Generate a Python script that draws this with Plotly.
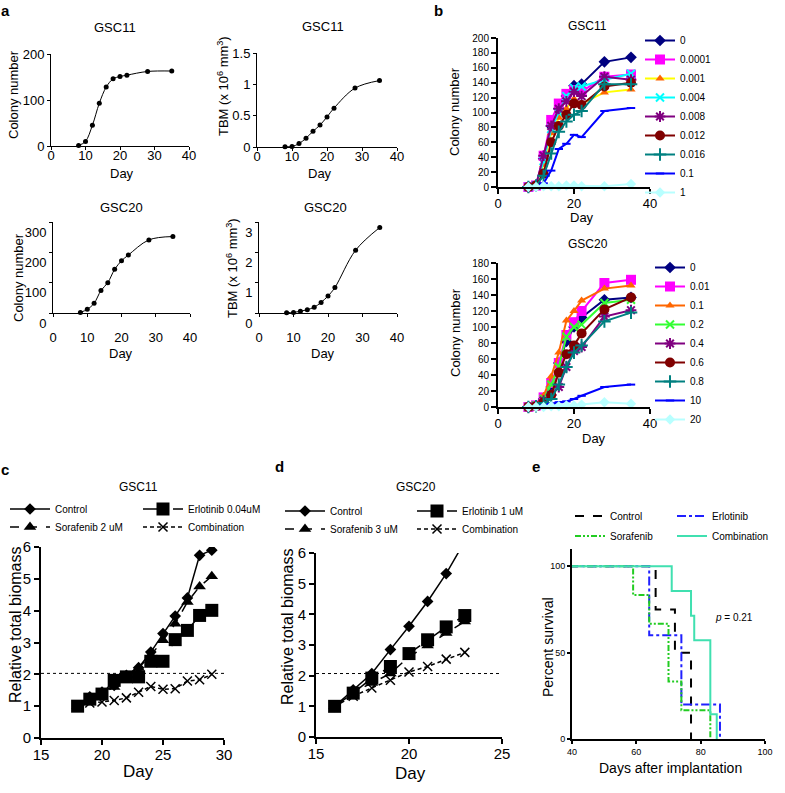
import plotly.graph_objects as go

W, H = 785, 793
FONT = "Arial, 'Liberation Sans', sans-serif"

# ---------------- Panel a ----------------
a_days = [8, 10, 12, 14, 16, 18, 20, 22, 28, 35]
a_gsc11_colony = [1, 10, 45, 93, 128, 146, 151, 154, 162, 163]
a_gsc11_tbm = [0.005, 0.008, 0.054, 0.14, 0.25, 0.35, 0.48, 0.62, 0.94, 1.06]
a_gsc20_colony = [2, 12, 32, 74, 100, 144, 172, 191, 241, 252]
a_gsc20_tbm = [0.01, 0.02, 0.055, 0.11, 0.19, 0.35, 0.56, 0.84, 2.07, 2.82]

# ---------------- Panel b ----------------
b_days = [8, 10, 12, 14, 16, 18, 20, 22, 28, 35]
b11_names = ["0", "0.0001", "0.001", "0.004", "0.008", "0.012", "0.016", "0.1", "1"]
b11_values = [
    [0, 2, 38, 82, 105, 122, 136, 138, 168, 174],
    [0, 2, 42, 90, 112, 125, 130, 128, 148, 151],
    [0, 2, 30, 72, 93, 105, 118, 112, 127, 131],
    [0, 2, 35, 78, 100, 122, 133, 135, 144, 152],
    [0, 2, 42, 82, 105, 115, 128, 122, 148, 144],
    [0, 2, 18, 60, 82, 97, 112, 110, 135, 140],
    [0, 2, 15, 45, 74, 88, 97, 102, 138, 138],
    [0, 0, 5, 22, 51, 58, 70, 67, 102, 106],
    [0, 0, 1, 1, 1, 2, 2, 1, 1, 4],
]
b20_names = ["0", "0.01", "0.1", "0.2", "0.4", "0.6", "0.8", "10", "20"]
b20_values = [
    [0, 1, 10, 25, 55, 82, 100, 112, 134, 137],
    [0, 2, 12, 30, 55, 90, 106, 120, 155, 159],
    [0, 3, 14, 38, 68, 108, 120, 133, 148, 152],
    [0, 2, 10, 28, 50, 88, 100, 103, 130, 134],
    [0, 1, 8, 15, 25, 50, 70, 75, 113, 121],
    [0, 1, 6, 15, 43, 66, 77, 92, 122, 137],
    [0, 1, 5, 10, 28, 50, 68, 77, 107, 118],
    [0, 0, 2, 4, 6, 7, 10, 14, 25, 28],
    [0, 0, 0, 1, 1, 2, 2, 3, 6, 4],
]

# ---------------- Panel c ----------------
c_days = [18, 19, 20, 21, 22, 23, 24, 25, 26, 27, 28, 29]
c_control = [1.0, 1.29, 1.44, 1.65, 1.97, 2.21, 2.70, 3.28, 3.83, 4.40, 5.74, 5.90]
c_erlotinib = [1.0, 1.22, 1.38, 1.81, 1.92, 1.92, 2.41, 2.41, 3.09, 3.38, 3.85, 4.01]
c_sorafenib = [1.0, 1.25, 1.40, 1.60, 1.95, 2.20, 2.60, 3.07, 3.59, 4.27, 4.76, 5.08]
c_combination = [1.0, 1.10, 1.13, 1.18, 1.26, 1.44, 1.62, 1.53, 1.55, 1.79, 1.83, 2.00]
c_threshold = 2.03

# ---------------- Panel d ----------------
d_days = [16, 17, 18, 19, 20, 21, 22, 23]
d_control = [1.0, 1.54, 2.07, 2.85, 3.61, 4.42, 5.33, 6.38]
d_erlotinib = [1.0, 1.43, 1.92, 2.30, 2.72, 3.17, 3.59, 3.96]
d_sorafenib = [1.0, 1.45, 1.76, 2.07, 2.62, 2.98, 3.39, 3.77]
d_combination = [1.0, 1.33, 1.60, 1.85, 2.12, 2.30, 2.54, 2.76]
d_threshold = 2.07

# ---------------- Panel e ----------------
e_control_t = [0, 66, 72, 77]
e_control_s = [100, 75, 50, 0]
e_erlotinib_t = [0, 64, 74, 86]
e_erlotinib_s = [100, 60, 20, 0]
e_sorafenib_t = [0, 59, 64, 70, 74, 83]
e_sorafenib_s = [100, 83.3, 66.7, 33.3, 16.7, 0]
e_combination_t = [0, 71, 77, 78, 83, 85]
e_combination_s = [100, 85.7, 71.4, 57.1, 14.3, 0]

fig = go.Figure()


def xa(i):
    return "x" if i == 1 else f"x{i}"


def ya(i):
    return "y" if i == 1 else f"y{i}"


# panel a traces
for i, yv in zip([1, 2, 3, 4], [a_gsc11_colony, a_gsc11_tbm, a_gsc20_colony, a_gsc20_tbm]):
    fig.add_trace(go.Scatter(
        x=a_days, y=yv, mode="lines+markers",
        line=dict(color="black", width=1, shape="spline", smoothing=1.0),
        marker=dict(color="black", size=5),
        xaxis=xa(i), yaxis=ya(i), showlegend=False, cliponaxis=False))

# panel b styles
b11_style = [
    ("#000080", "#000080", "diamond", 9),
    ("#FF00FF", "#FF00FF", "square", 10),
    ("#FFFF00", "#FF6600", "triangle-up", 8),
    ("#00FFFF", "#00FFFF", "x-thin-open", 8),
    ("#800080", "#800080", "asterisk-open", 9),
    ("#800000", "#800000", "circle", 10),
    ("#008080", "#008080", "cross-thin-open", 9),
    ("#0000FF", "#0000FF", "line-ew-open", 6),
    ("#B8FFFF", "#B8FFFF", "diamond", 8),
]
b20_style = [
    ("#000080", "#000080", "diamond", 9),
    ("#FF00FF", "#FF00FF", "square", 10),
    ("#FF6600", "#FF6600", "triangle-up", 8),
    ("#33FF33", "#33FF33", "x-thin-open", 8),
    ("#800080", "#800080", "asterisk-open", 9),
    ("#800000", "#800000", "circle", 10),
    ("#008080", "#008080", "cross-thin-open", 9),
    ("#0000FF", "#0000FF", "line-ew-open", 6),
    ("#B8FFFF", "#B8FFFF", "diamond", 8),
]
for idx, names, values, styles, leg in [(5, b11_names, b11_values, b11_style, "legend"),
                                         (6, b20_names, b20_values, b20_style, "legend2")]:
    for name, vals, (lc, mc, sym, sz) in zip(names, values, styles):
        fig.add_trace(go.Scatter(
            x=b_days, y=vals, name=name, mode="lines+markers",
            line=dict(color=lc, width=2),
            marker=dict(color=mc, symbol=sym, size=sz, line=dict(color=mc, width=2 if "open" in sym else 0)),
            xaxis=xa(idx), yaxis=ya(idx), legend=leg, cliponaxis=False))

# panels c and d
cd_style = [
    ("Control", "solid", "diamond", 9),
    ("Erlotinib", "longdash", "square", 13),
    ("Sorafenib", "dash", "triangle-up", 11),
    ("Combination", "4px,3px", "x-thin-open", 9),
]
c_series = [c_control, c_erlotinib, c_sorafenib, c_combination]
c_names = ["Control", "Erlotinib 0.04uM", "Sorafenib 2 uM", "Combination"]
d_series = [d_control, d_erlotinib, d_sorafenib, d_combination]
d_names = ["Control", "Erlotinib 1 uM", "Sorafenib 3 uM", "Combination"]
for idx, days, series, names, legs in [(7, c_days, c_series, c_names, ["legend3", "legend3", "legend4", "legend4"]),
                                       (8, d_days, d_series, d_names, ["legend5", "legend5", "legend6", "legend6"])]:
    for vals, name, (_, dash, sym, sz), leg in zip(series, names, cd_style, legs):
        fig.add_trace(go.Scatter(
            x=days, y=vals, name=name, mode="lines+markers",
            line=dict(color="black", width=1.5, dash=dash),
            marker=dict(color="black", symbol=sym, size=sz,
                        line=dict(color="black", width=1.5 if "open" in sym else 0)),
            xaxis=xa(idx), yaxis=ya(idx), legend=leg))

# panel e
e_series = [
    ("Control", e_control_t, e_control_s, "black", "dash", "legend7"),
    ("Erlotinib", e_erlotinib_t, e_erlotinib_s, "#2020FF", "dashdot", "legend7"),
    ("Sorafenib", e_sorafenib_t, e_sorafenib_s, "#22CC22", "6px,2px,2px,2px,2px,2px", "legend8"),
    ("Combination", e_combination_t, e_combination_s, "#40E0B0", "solid", "legend8"),
]
for name, t, s, col, dash, leg in e_series:
    fig.add_trace(go.Scatter(
        x=t, y=s, name=name, mode="lines",
        line=dict(color=col, width=2, dash=dash, shape="hv"),
        xaxis=xa(9), yaxis=ya(9), legend=leg))

# ---------------- axes ----------------
axes = {
    1: dict(xpx=(51, 189), ypx=(54, 146), xr=[0, 40], yr=[0, 200], xt=[0, 10, 20, 30, 40], yt=[0, 100, 200],
            xf=13, yf=13, lw=1, tl=3, yshift=0, xstand=-6),
    2: dict(xpx=(257, 397), ypx=(53, 147), xr=[0, 40], yr=[0, 1.5], xt=[0, 10, 20, 30, 40], yt=[0, 0.5, 1, 1.5],
            xf=13, yf=13, lw=1, tl=3, yshift=0, xstand=-6),
    3: dict(xpx=(53, 190), ypx=(222, 313), xr=[0, 40], yr=[0, 300], xt=[0, 10, 20, 30, 40], yt=[0, 100, 200, 300],
            xf=13, yf=13, lw=1, tl=3, yshift=10, xstand=9),
    4: dict(xpx=(259, 397), ypx=(222, 313), xr=[0, 40], yr=[0, 3], xt=[0, 10, 20, 30, 40], yt=[0, 1, 2, 3],
            xf=13, yf=13, lw=1, tl=3, yshift=10, xstand=9),
    5: dict(xpx=(498, 650), ypx=(38, 187), xr=[0, 40], yr=[0, 200], xt=[0, 20, 40], yt=list(range(0, 201, 20)),
            xf=13, yf=10, lw=2, tl=5, yshift=0, xstand=-2),
    6: dict(xpx=(498, 650), ypx=(263, 407), xr=[0, 40], yr=[0, 180], xt=[0, 20, 40], yt=list(range(0, 181, 20)),
            xf=13, yf=10, lw=2, tl=5, yshift=0, xstand=-2),
    7: dict(xpx=(41, 224), ypx=(547, 738), xr=[15, 30], yr=[0, 6], xt=[15, 20, 25, 30], yt=[0, 1, 2, 3, 4, 5, 6],
            xf=15, yf=15, lw=2, tl=5, yshift=0, xstand=-3),
    8: dict(xpx=(316, 502), ypx=(553, 737), xr=[15, 25], yr=[0, 6], xt=[15, 20, 25], yt=[0, 1, 2, 3, 4, 5, 6],
            xf=15, yf=15, lw=2, tl=5, yshift=0, xstand=-3),
    9: dict(xpx=(572, 765), ypx=(549, 739), xr=[40, 100], yr=[0, 110], xt=[40, 60, 80, 100], yt=[0, 50, 100],
            xf=9, yf=9, lw=2, tl=3, yshift=0, xstand=0),
}

layout = dict(
    width=W, height=H, margin=dict(l=0, r=0, t=0, b=0, autoexpand=False),
    paper_bgcolor="white", plot_bgcolor="white",
    font=dict(family=FONT, color="black"),
)
for i, s in axes.items():
    xk = "xaxis" if i == 1 else f"xaxis{i}"
    yk = "yaxis" if i == 1 else f"yaxis{i}"
    layout[xk] = dict(
        domain=[s["xpx"][0] / W, s["xpx"][1] / W], range=s["xr"], anchor=ya(i),
        tickmode="array", tickvals=s["xt"], showgrid=False, zeroline=False,
        showline=True, linecolor="black", linewidth=s["lw"], ticks="outside", ticklen=s["tl"],
        tickcolor="black", tickwidth=s["lw"], tickfont=dict(family=FONT, size=s["xf"], color="black"),
        ticklabelstandoff=s["xstand"], fixedrange=True, automargin=False)
    layout[yk] = dict(
        domain=[1 - s["ypx"][1] / H, 1 - s["ypx"][0] / H], range=s["yr"], anchor=xa(i),
        tickmode="array", tickvals=s["yt"], showgrid=False, zeroline=False,
        showline=True, linecolor="black", linewidth=s["lw"], ticks="outside", ticklen=s["tl"],
        tickcolor="black", tickwidth=s["lw"], tickfont=dict(family=FONT, size=s["yf"], color="black"),
        ticklabelshift=s["yshift"], fixedrange=True, automargin=False)


def legend_at(xpx, ypx, size, orient="v", entrywidth=None, itemwidth=30, yanchor="top"):
    d = dict(x=xpx / W, y=1 - ypx / H, xanchor="left", yanchor=yanchor, orientation=orient,
             font=dict(family=FONT, size=size, color="black"), bgcolor="rgba(0,0,0,0)",
             itemwidth=itemwidth, tracegroupgap=0, borderwidth=0)
    if entrywidth:
        d["entrywidth"] = entrywidth
    return d


layout["legend"] = legend_at(640, 26, 10)
layout["legend2"] = legend_at(650, 253, 10)
layout["legend3"] = legend_at(5, 509, 10, "h", 78, 40, "middle")
layout["legend4"] = legend_at(5, 527, 10, "h", 78, 40, "middle")
layout["legend5"] = legend_at(280, 511, 10, "h", 77, 40, "middle")
layout["legend6"] = legend_at(280, 529, 10, "h", 77, 40, "middle")
layout["legend7"] = legend_at(570, 516, 10, "h", 57, 30, "middle")
layout["legend8"] = legend_at(570, 536, 10, "h", 57, 30, "middle")

ann = []


def text(xpx, ypx, t, size, angle=0, bold=False, xanchor="center"):
    if bold:
        t = f"<b>{t}</b>"
    ann.append(dict(x=xpx / W, y=1 - ypx / H, xref="paper", yref="paper", text=t, showarrow=False,
                    textangle=angle, xanchor=xanchor, yanchor="middle",
                    font=dict(family=FONT, size=size, color="black")))


# panel letters
text(5, 11, "a", 15, bold=True)
text(438, 10, "b", 15, bold=True)
text(5, 470, "c", 15, bold=True)
text(279, 467, "d", 15, bold=True)
text(536, 467, "e", 15, bold=True)

# panel titles
text(115, 28, "GSC11", 13)
text(323, 27, "GSC11", 13)
text(121, 207, "GSC20", 13)
text(325, 207, "GSC20", 13)
text(587, 26, "GSC11", 12)
text(588, 244, "GSC20", 12)
text(138, 487, "GSC11", 12)
text(416, 487, "GSC20", 12)

# axis titles
text(13, 95, "Colony number", 13, angle=-90)
text(122, 174, "Day", 13)
text(223, 86, "TBM (x 10<sup>6</sup> mm<sup>3</sup>)", 13, angle=-90)
text(320, 174, "Day", 13)
text(18, 278, "Colony number", 13, angle=-90)
text(121, 353, "Day", 13)
text(232, 268, "TBM (x 10<sup>6</sup> mm<sup>3</sup>)", 13, angle=-90)
text(323, 353, "Day", 13)
text(455, 112, "Colony number", 13, angle=-90)
text(582, 218, "Day", 13)
text(455, 333, "Colony number", 13, angle=-90)
text(594, 438, "Day", 13)
text(15, 625, "Relative total biomass", 16, angle=-90)
text(138, 771, "Day", 17)
text(287, 627, "Relative total biomass", 16, angle=-90)
text(410, 773, "Day", 17)
text(548, 647, "Percent survival", 14, angle=-90)
text(670, 768, "Days after implantation", 14)
text(713, 617, "<i>p</i> = 0.21", 10, xanchor="left")

layout["annotations"] = ann

# dotted threshold lines
layout["shapes"] = [
    dict(type="line", xref="x7", yref="y7", x0=15, x1=30, y0=c_threshold, y1=c_threshold,
         line=dict(color="black", width=1, dash="dot")),
    dict(type="line", xref="x8", yref="y8", x0=15, x1=24.9, y0=d_threshold, y1=d_threshold,
         line=dict(color="black", width=1, dash="dot")),
]

fig.update_layout(**layout)
fig.write_html("out.html", config={"displayModeBar": False},
               post_script="document.body.style.margin='0px';")
